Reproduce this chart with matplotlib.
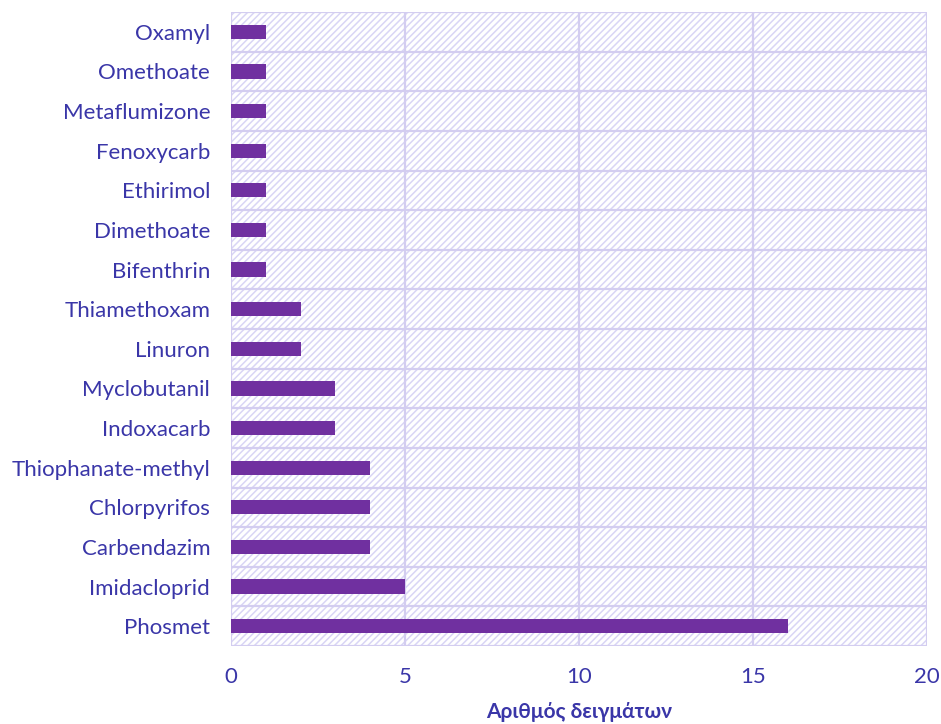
import matplotlib.pyplot as plt
from matplotlib.patches import Rectangle

# values, bottom to top
names = ["Phosmet", "Imidacloprid", "Carbendazim", "Chlorpyrifos", "Thiophanate-methyl",
         "Indoxacarb", "Myclobutanil", "Linuron", "Thiamethoxam", "Bifenthrin",
         "Dimethoate", "Ethirimol", "Fenoxycarb", "Metaflumizone", "Omethoate", "Oxamyl"]
counts = [16, 5, 4, 4, 4, 3, 3, 2, 2, 1, 1, 1, 1, 1, 1, 1]
xticks = [0, 5, 10, 15, 20]

txt = "#3a36a8"
grid = "#d3cdf0"
plt.rcParams['font.family'] = ['Lato', 'DejaVu Sans']
plt.rcParams['hatch.linewidth'] = 1.1

fig = plt.figure(figsize=(9.41, 7.24), dpi=100)
ax = fig.add_axes([0.2455, 0.1077, 0.7395, 0.8757])

# hatched plot area background
ax.add_patch(Rectangle((0, 0), 1, 1, transform=ax.transAxes, facecolor="white",
                       edgecolor="#d9d5f5", linewidth=0, hatch="/////", zorder=0))

pos = list(range(len(names)))
ax.barh(pos, counts, height=0.36, color="#7030a0", zorder=3)

ax.set_xlim(0, 20)
ax.set_ylim(-0.5, len(names) - 0.5)
ax.set_xticks(xticks)
ax.set_xticklabels([str(t) for t in xticks])
ax.set_yticks(pos)
ax.set_yticklabels(names)

for y in [p - 0.5 for p in pos] + [len(names) - 0.5]:
    ax.axhline(y, color=grid, lw=1.6, zorder=1)
for x in xticks:
    ax.axvline(x, color=grid, lw=1.6, zorder=1)

for s in ax.spines.values():
    s.set_visible(False)

ax.tick_params(axis="both", length=0, labelsize=16, labelcolor=txt)
ax.tick_params(axis="x", pad=15)
ax.tick_params(axis="y", pad=15)
ax.set_xlabel("Αριθμός δειγμάτων", fontsize=15, fontweight="bold", color=txt, labelpad=11)

fig.savefig("out.png", dpi=100)
